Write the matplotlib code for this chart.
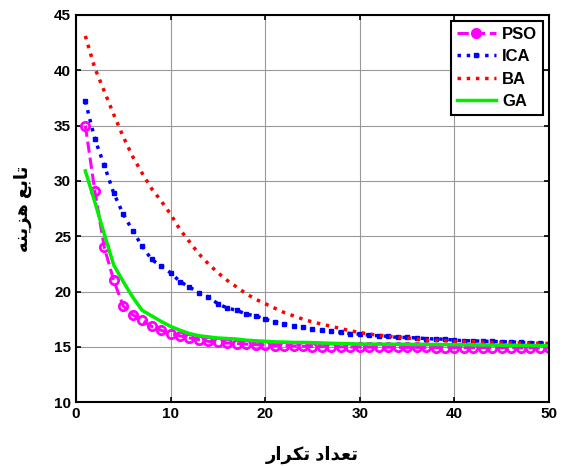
import numpy as np
import matplotlib
matplotlib.use('Agg')
import matplotlib.pyplot as plt

plt.rcParams['font.family'] = ['Liberation Sans', 'DejaVu Sans']
plt.rcParams['font.weight'] = 'bold'

iters = np.arange(1, 51)

pso = [35.0, 29.1, 24.0, 21.0, 18.7, 17.9, 17.4, 16.85, 16.5, 16.2,
       16.0, 15.8, 15.65, 15.5, 15.4, 15.35, 15.3, 15.25, 15.2, 15.15,
       15.12, 15.1, 15.08, 15.05, 15.03, 15.02, 15.0, 15.0, 14.99, 14.98,
       14.97, 14.97, 14.96, 14.96, 14.95, 14.95, 14.95, 14.94, 14.94, 14.94,
       14.93, 14.93, 14.93, 14.92, 14.92, 14.92, 14.91, 14.91, 14.9, 14.9]

ica = [37.2, 33.8, 31.4, 28.9, 27.0, 25.5, 24.1, 22.9, 22.3, 21.7,
       20.9, 20.4, 19.9, 19.5, 18.9, 18.5, 18.3, 17.95, 17.8, 17.5,
       17.25, 17.05, 16.9, 16.75, 16.6, 16.5, 16.4, 16.3, 16.2, 16.15,
       16.05, 16.0, 15.95, 15.85, 15.85, 15.8, 15.75, 15.7, 15.7, 15.6,
       15.55, 15.55, 15.5, 15.5, 15.45, 15.45, 15.4, 15.38, 15.35, 15.3]

ba = [43.1, 40.2, 38.1, 36.0, 34.0, 32.2, 30.7, 29.3, 28.2, 27.0,
      25.6, 24.5, 23.4, 22.5, 21.7, 21.0, 20.4, 19.8, 19.3, 18.9,
      18.5, 18.1, 17.8, 17.5, 17.25, 17.05, 16.85, 16.65, 16.45, 16.3,
      16.15, 16.05, 15.95, 15.9, 15.8, 15.7, 15.6, 15.58, 15.55, 15.5,
      15.48, 15.45, 15.42, 15.4, 15.38, 15.36, 15.35, 15.33, 15.32, 15.3]

ga = [30.9, 28.1, 25.2, 22.4, 20.9, 19.5, 18.3, 17.8, 17.3, 16.85,
      16.5, 16.2, 16.0, 15.9, 15.8, 15.75, 15.7, 15.6, 15.55, 15.5,
      15.45, 15.43, 15.4, 15.4, 15.38, 15.35, 15.32, 15.3, 15.28, 15.25,
      15.25, 15.24, 15.24, 15.23, 15.23, 15.22, 15.22, 15.21, 15.2, 15.2,
      15.19, 15.18, 15.17, 15.16, 15.15, 15.14, 15.13, 15.12, 15.11, 15.1]

# arabic labels written in visual (shaped, left-to-right) order
xlabel = '\uFEAD\uFE8D\uFEAE\uFB91\uFE97 \uFEA9\uFE8D\uFEAA\uFECC\uFE97'
ylabel = '\uFEEA\uFEE8\uFBFE\uFEB0\uFEEB \uFECA\uFE91\uFE8E\uFE97'

fig = plt.figure(figsize=(5.62, 4.66), dpi=100)
ax = fig.add_axes([0.135, 0.137, 0.842, 0.831])

ax.plot(iters, pso, color='magenta', linestyle='--', linewidth=2.2,
        marker='o', markersize=6, markeredgewidth=2, markerfacecolor='none', label='PSO')
ax.plot(iters, ica, color='blue', linestyle=':', linewidth=2.5,
        marker='s', markersize=3, label='ICA')
ax.plot(iters, ba, color='red', linestyle=':', linewidth=2.5, label='BA')
ax.plot(iters, ga, color='#00ee00', linestyle='-', linewidth=2.5, label='GA')

ax.set_xlim(0, 50)
ax.set_ylim(10, 45)
ax.set_xticks([0, 10, 20, 30, 40, 50])
ax.set_yticks([10, 15, 20, 25, 30, 35, 40, 45])
ax.tick_params(direction='in', top=True, right=True, labelsize=11, width=1.2)
for lab in ax.get_xticklabels() + ax.get_yticklabels():
    lab.set_fontweight('bold')
ax.grid(True, color='#999999', linewidth=0.8)
for s in ax.spines.values():
    s.set_linewidth(1.5)

ax.set_xlabel(xlabel, fontsize=13, fontweight='bold', labelpad=18)
ax.set_ylabel(ylabel, fontsize=13, fontweight='bold', labelpad=16)

leg = ax.legend(loc='upper right', fontsize=12, fancybox=False, framealpha=1,
                edgecolor='black', borderaxespad=0.35, handlelength=2.3,
                handletextpad=0.4, labelspacing=0.45, borderpad=0.35)
leg.get_frame().set_linewidth(1.5)
leg.legend_handles[0].set_markerfacecolor('magenta')
for t in leg.get_texts():
    t.set_fontweight('bold')

fig.savefig('out.png', dpi=100)
